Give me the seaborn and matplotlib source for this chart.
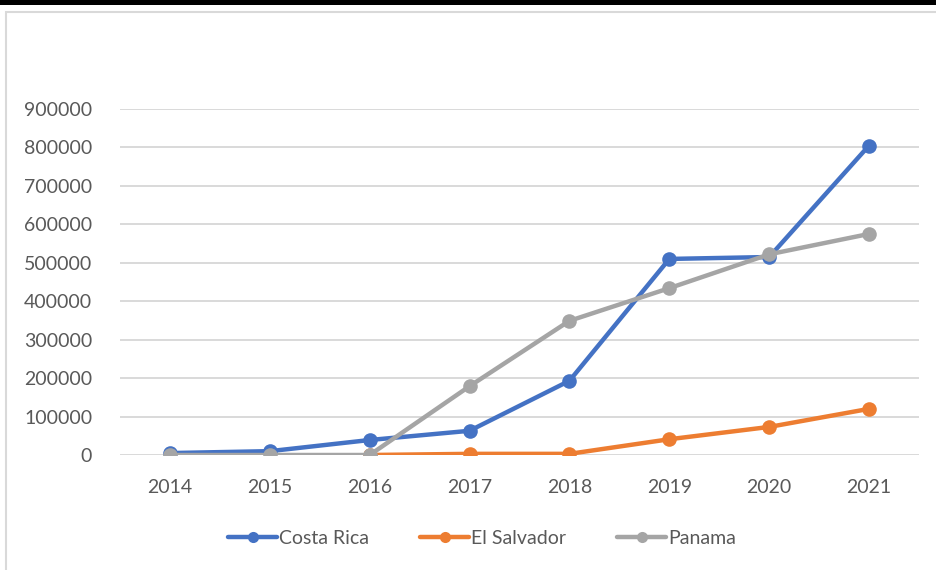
import numpy as np
import pandas as pd
import matplotlib
matplotlib.use("Agg")
import matplotlib.pyplot as plt
from matplotlib.patches import Rectangle
import seaborn as sns

years = [2014, 2015, 2016, 2017, 2018, 2019, 2020, 2021]
costa_rica = [5000, 10000, 39000, 63000, 193000, 510000, 515000, 805000]
el_salvador = [np.nan, np.nan, 0, 3000, 3000, 41000, 73000, 120000]
panama = [0, 0, 0, 179000, 349000, 434000, 522000, 575000]
series_names = ["Costa Rica", "El Salvador", "Panama"]
y_ticks = [0, 100000, 200000, 300000, 400000, 500000, 600000, 700000, 800000, 900000]

colors = ["#4472c4", "#ed7d31", "#a5a5a5"]
text_color = "#595959"
grid_color = "#d9d9d9"

frames = []
for name, vals in zip(series_names, [costa_rica, el_salvador, panama]):
    frames.append(pd.DataFrame({"year": [str(y) for y in years], "value": vals, "country": name}))
df = pd.concat(frames, ignore_index=True)
df["pos"] = df["year"].map({str(y): i for i, y in enumerate(years)})

sns.set_theme(style="white")
plt.rcParams["font.family"] = ["Lato", "DejaVu Sans"]

fig = plt.figure(figsize=(9.36, 5.70), dpi=100)
fig.patch.set_facecolor("white")
W, H = 936, 570

# dark band across the top and the light chart-area frame
fig.patches.append(Rectangle((0, 1 - 5 / H), 1, 5 / H, transform=fig.transFigure,
                             facecolor="black", edgecolor="none", zorder=-1))
fig.patches.append(Rectangle((6 / W, -0.1), 1.2, 1 - 12 / H + 0.1, transform=fig.transFigure,
                             facecolor="none", edgecolor=grid_color, linewidth=1.5, zorder=-1))

ax = fig.add_axes([120 / W, 115 / H, 799 / W, 346 / H])
ax.set_facecolor("none")

sns.lineplot(data=df, x="pos", y="value", hue="country", hue_order=series_names,
             palette=colors, marker="o", markersize=10.5, markeredgewidth=0,
             linewidth=3.2, dashes=False, ax=ax, legend=True, sort=False)

ax.set_xlim(-0.5, len(years) - 0.5)
ax.set_ylim(0, 900000)
ax.set_xticks(range(len(years)))
ax.set_xticklabels([str(y) for y in years])
ax.set_yticks(y_ticks)
ax.set_yticklabels([str(v) for v in y_ticks])
ax.tick_params(axis="both", length=0, labelsize=14, labelcolor=text_color)
ax.tick_params(axis="y", pad=20)
ax.tick_params(axis="x", pad=17)
ax.set_xlabel("")
ax.set_ylabel("")
for s in ax.spines.values():
    s.set_visible(False)
ax.yaxis.grid(True, color=grid_color, linewidth=1.4)
ax.set_axisbelow(True)

handles, labels = ax.get_legend_handles_labels()
for h in handles:
    h.set_markersize(8)
ax.legend(handles, labels, loc="center", bbox_to_anchor=(482 / W, 1 - 538 / H),
          bbox_transform=fig.transFigure, ncol=3, frameon=False, fontsize=14,
          labelcolor=text_color, handlelength=2.5, handletextpad=0.1, columnspacing=2.65)

fig.savefig("out.png", dpi=100)
